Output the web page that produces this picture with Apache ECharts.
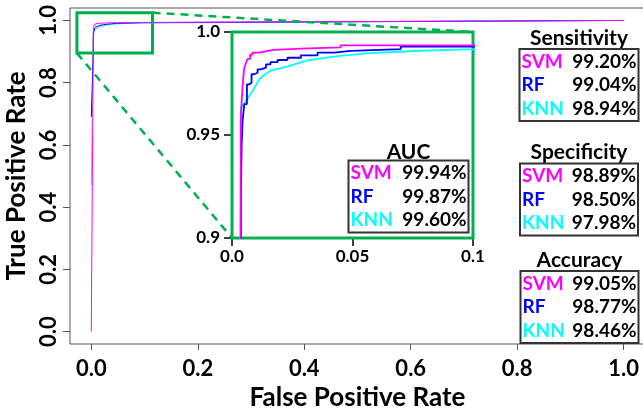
<!DOCTYPE html>
<html>
<head>
<meta charset="utf-8">
<script src="https://cdn.jsdelivr.net/npm/echarts@6.0.0/dist/echarts.min.js"></script>
<style>
  html, body { margin: 0; padding: 0; background: #fff; }
  #main { width: 643px; height: 410px; }
</style>
</head>
<body>
<div id="main"></div>
<script>
// ROC curves, [false positive rate, true positive rate]
var svmRoc = [
  [0, 0], [0.0036, 0.9], [0.0036, 0.957], [0.0040, 0.957], [0.0040, 0.966],
  [0.0044, 0.966], [0.0044, 0.974], [0.0050, 0.974], [0.0050, 0.982],
  [0.0058, 0.982], [0.0058, 0.985], [0.0065, 0.985], [0.0065, 0.987],
  [0.0075, 0.987], [0.0075, 0.989], [0.0085, 0.989], [0.0085, 0.990],
  [0.0113, 0.990], [0.0113, 0.9908], [0.0148, 0.9908], [0.0148, 0.9913],
  [0.0175, 0.9913], [0.0175, 0.9919], [0.0286, 0.9919], [0.0286, 0.9925],
  [0.045, 0.9925], [0.045, 0.9935], [0.097, 0.9935], [1, 1]
];
var rfRoc = [
  [0, 0.69], [0.0037, 0.9], [0.0037, 0.923], [0.0040, 0.923], [0.0040, 0.945],
  [0.0044, 0.945], [0.0044, 0.957], [0.0051, 0.957], [0.0051, 0.965],
  [0.0062, 0.965], [0.0062, 0.9746], [0.0072, 0.9746], [0.0072, 0.9754],
  [0.0081, 0.9754], [0.0081, 0.9795], [0.0092, 0.9795], [0.0092, 0.9802],
  [0.0106, 0.9802], [0.0106, 0.9819], [0.012, 0.9819], [0.012, 0.9827],
  [0.0141, 0.9827], [0.0141, 0.9843], [0.016, 0.9843], [0.016, 0.9854],
  [0.0189, 0.9854], [0.0189, 0.9864], [0.023, 0.9864], [0.023, 0.9875],
  [0.0286, 0.9875], [0.0286, 0.9887], [0.0355, 0.9887], [0.0355, 0.99],
  [0.0424, 0.99], [0.0424, 0.9908], [0.0493, 0.9908], [0.0493, 0.9917],
  [0.07, 0.9917], [0.07, 0.9929], [0.097, 0.9929], [1, 1]
];
var knnRoc = [
  [0, 0.47], [0.0035, 0.9], [0.0037, 0.938], [0.0037, 0.9633], [0.0058, 0.9665],
  [0.0083, 0.971], [0.0113, 0.977], [0.0131, 0.979], [0.016, 0.9812],
  [0.0228, 0.9832], [0.0313, 0.9862], [0.0366, 0.9872], [0.0465, 0.9887],
  [0.0573, 0.9897], [0.078, 0.9909], [0.097, 0.9916], [1, 1]
];

var models = ['SVM', 'RF', 'KNN'];
var modelColors = ['#ff00ff', '#0000ff', '#00ffff'];
var aucValues = ['99.94%', '99.87%', '99.60%'];
var sensitivityValues = ['99.20%', '99.04%', '98.94%'];
var specificityValues = ['98.89%', '98.50%', '97.98%'];
var accuracyValues = ['99.05%', '98.77%', '98.46%'];

var mainTicks = [0, 0.2, 0.4, 0.6, 0.8, 1.0];
var insetXTicks = [0, 0.05, 0.1];
var insetXLabels = ['0.0', '0.05', '0.1'];
var insetYTicks = [0.9, 0.95, 1.0];
var insetYLabels = ['0.9', '0.95', '1.0'];
// zoomed region marked on the main plot
var zoomBoxX = [-0.027, 0.115];
var zoomBoxY = [0.895, 1.025];

var green = '#00b050';
var FONT = 'Lato';

var chart = echarts.init(document.getElementById('main'));

function rocSeries(name, data, color, idx, width) {
  return {
    name: name,
    type: 'line',
    xAxisIndex: idx,
    yAxisIndex: idx,
    data: data,
    symbol: 'none',
    showSymbol: false,
    clip: true,
    silent: true,
    lineStyle: { color: color, width: width },
    itemStyle: { color: color },
    z: 3
  };
}

var mainLabel = { fontFamily: FONT, fontWeight: 'bold', fontSize: 22, color: '#000' };
var insetLabel = { fontFamily: FONT, fontWeight: 'bold', fontSize: 17, color: '#000' };

var option = {
  animation: false,
  grid: [
    { left: 70, top: 8, width: 575, height: 336, show: true, borderColor: '#555', borderWidth: 1,
      backgroundColor: 'transparent', outerBoundsMode: 'none' },
    { left: 232, top: 32, width: 241, height: 206, show: true, borderColor: green, borderWidth: 3,
      backgroundColor: '#fff', outerBoundsMode: 'none', z: 1 }
  ],
  xAxis: [
    {
      type: 'value', gridIndex: 0, min: -0.04, max: 1.04,
      name: 'False Positive Rate', nameLocation: 'middle', nameGap: 38,
      nameTextStyle: { fontFamily: FONT, fontWeight: 'bold', fontSize: 26, color: '#000' },
      axisLine: { show: false, onZero: false },
      axisTick: { show: true, customValues: mainTicks, length: 6, lineStyle: { color: '#555' } },
      axisLabel: Object.assign({ customValues: mainTicks, margin: 14,
        formatter: function (v) { return v.toFixed(1); } }, mainLabel),
      splitLine: { show: false }
    },
    {
      type: 'value', gridIndex: 1, min: 0, max: 0.1,
      axisLine: { show: false, onZero: false },
      axisTick: { show: true, customValues: insetXTicks, length: 8, lineStyle: { color: '#000', width: 1.5 } },
      axisLabel: Object.assign({ customValues: insetXTicks, margin: 10,
        formatter: function (v) { return insetXLabels[insetXTicks.indexOf(+v.toFixed(2))]; } }, insetLabel),
      splitLine: { show: false }
    }
  ],
  yAxis: [
    {
      type: 'value', gridIndex: 0, min: -0.04, max: 1.04,
      name: 'True Positive Rate', nameLocation: 'middle', nameGap: 36,
      nameTextStyle: { fontFamily: FONT, fontWeight: 'bold', fontSize: 26, color: '#000' },
      axisLine: { show: false, onZero: false },
      axisTick: { show: true, customValues: mainTicks, length: 7, lineStyle: { color: '#555' } },
      axisLabel: Object.assign({ customValues: mainTicks, margin: 10, rotate: 90,
        formatter: function (v) { return v.toFixed(1); } }, mainLabel),
      splitLine: { show: false }
    },
    {
      type: 'value', gridIndex: 1, min: 0.9, max: 1.0,
      axisLine: { show: false, onZero: false },
      axisTick: { show: true, customValues: insetYTicks, length: 8, lineStyle: { color: '#000', width: 1.5 } },
      axisLabel: Object.assign({ customValues: insetYTicks, margin: 12,
        formatter: function (v) { return insetYLabels[insetYTicks.indexOf(+v.toFixed(2))]; } }, insetLabel),
      splitLine: { show: false }
    }
  ],
  series: [
    rocSeries('KNN', knnRoc, modelColors[2], 0, 1),
    rocSeries('RF', rfRoc, modelColors[1], 0, 1),
    rocSeries('SVM', svmRoc, modelColors[0], 0, 1),
    rocSeries('KNN', knnRoc, modelColors[2], 1, 1.8),
    rocSeries('RF', rfRoc, modelColors[1], 1, 1.8),
    rocSeries('SVM', svmRoc, modelColors[0], 1, 1.8)
  ]
};
chart.setOption(option);

// small text tables (title + bordered box with three rows)
function table(title, values, boxX, boxY, boxW, titleY) {
  var els = [];
  els.push({ type: 'text', z: 100, style: { text: title, x: boxX + boxW / 2, y: titleY,
    align: 'center', verticalAlign: 'middle', font: 'bold 21px ' + FONT, fill: '#000' } });
  els.push({ type: 'rect', z: 100, shape: { x: boxX, y: boxY, width: boxW, height: 72 },
    style: { fill: '#fff', stroke: '#333', lineWidth: 2 } });
  models.forEach(function (m, i) {
    var cy = boxY + 12.5 + 23.5 * i;
    els.push({ type: 'text', z: 101, style: { text: m, x: boxX + 2, y: cy,
      align: 'left', verticalAlign: 'middle', font: 'bold 19px ' + FONT, fill: modelColors[i] } });
    els.push({ type: 'text', z: 101, style: { text: values[i], x: boxX + boxW - 2, y: cy,
      align: 'right', verticalAlign: 'middle', font: 'bold 19px ' + FONT, fill: '#000' } });
  });
  return els;
}

// zoom box and connector lines, placed through the axes
var p0 = chart.convertToPixel({ xAxisIndex: 0, yAxisIndex: 0 }, [zoomBoxX[0], zoomBoxY[1]]);
var p1 = chart.convertToPixel({ xAxisIndex: 0, yAxisIndex: 0 }, [zoomBoxX[1], zoomBoxY[0]]);
var insetTR = chart.convertToPixel({ xAxisIndex: 1, yAxisIndex: 1 }, [insetXTicks[2], insetYTicks[2]]);
var insetBL = chart.convertToPixel({ xAxisIndex: 1, yAxisIndex: 1 }, [insetXTicks[0], insetYTicks[0]]);

var graphics = [
  { type: 'rect', z: 50, shape: { x: p0[0], y: p0[1], width: p1[0] - p0[0], height: p1[1] - p0[1] },
    style: { fill: 'none', stroke: green, lineWidth: 3 } },
  { type: 'line', z: 50, shape: { x1: p1[0], y1: p0[1], x2: insetTR[0], y2: insetTR[1] },
    style: { stroke: green, lineWidth: 2.5, lineDash: [8, 6] } },
  { type: 'line', z: 50, shape: { x1: p0[0], y1: p1[1], x2: insetBL[0], y2: insetBL[1] },
    style: { stroke: green, lineWidth: 2.5, lineDash: [8, 6] } }
];
graphics = graphics
  .concat(table('AUC', aucValues, 348.5, 160.5, 120, 152.5))
  .concat(table('Sensitivity', sensitivityValues, 519.5, 49, 119, 38))
  .concat(table('Specificity', specificityValues, 520, 163.5, 118, 152))
  .concat(table('Accuracy', accuracyValues, 520.5, 271, 118, 260));

chart.setOption({ graphic: graphics });
</script>
</body>
</html>
